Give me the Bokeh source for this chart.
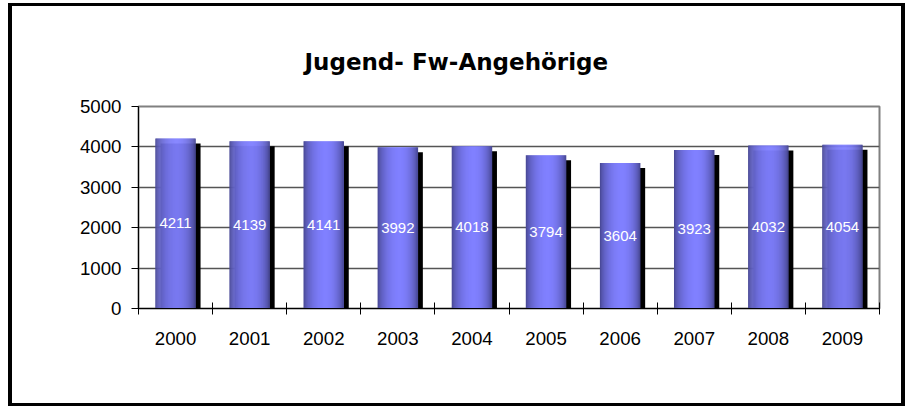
import numpy as np
from bokeh.plotting import figure
from bokeh.models import FixedTicker, ColumnDataSource
from bokeh.core.properties import value
from bokeh.embed import file_html
from bokeh.resources import INLINE

title_text = "Jugend- Fw-Angehörige"
years = ["2000", "2001", "2002", "2003", "2004", "2005", "2006", "2007", "2008", "2009"]
counts = [4211, 4139, 4141, 3992, 4018, 3794, 3604, 3923, 4032, 4054]
y_ticks = [0, 1000, 2000, 3000, 4000, 5000]

n_cat = len(years)
centers = np.arange(n_cat) + 0.5
bar_w = 0.54
n_strips = 40
shadow_dx = 0.0675
shadow_dy = 124

p = figure(width=897, height=403, x_range=(0, n_cat), y_range=(0, 5000),
           output_backend="svg", toolbar_location=None,
           min_border_left=126, min_border_right=30, min_border_top=100, min_border_bottom=101)
p.styles = {"margin-left": "8px", "margin-top": "3px",
            "border-style": "solid", "border-color": "black",
            "border-width": "3px 4px 3px 4px"}
p.background_fill_color = "white"
p.border_fill_color = "white"
p.outline_line_color = "#808080"
p.outline_line_width = 2

p.title.text = title_text
p.title.align = "left"
p.title.offset = 166
p.title.standoff = 64
p.title.text_font = "DejaVu Sans"
p.title.text_font_style = "bold"
p.title.text_font_size = "23px"
p.title.text_color = "black"

# grid
p.xgrid.visible = False
p.ygrid.ticker = FixedTicker(ticks=y_ticks[1:-1])
p.ygrid.grid_line_color = "#555555"
p.ygrid.grid_line_width = 1.5

# shadows
p.vbar(x=centers + shadow_dx, width=bar_w, top=np.array(counts) - shadow_dy, bottom=0,
       fill_color="black", line_color=None)

# gradient bars via strips
dark = np.array([66, 66, 136])
light = np.array([128, 128, 255])
peak = 0.55
def strip_color(t):
    if t < peak:
        b = np.cos((peak - t) / peak * np.pi / 2)
    else:
        b = np.cos((t - peak) / (1 - peak) * np.pi / 2)
    b = max(b, 0) ** 0.6
    c = dark + (light - dark) * b
    return "#%02x%02x%02x" % tuple(int(round(v)) for v in c)

sx, st, sc = [], [], []
sw = bar_w / n_strips
for i, v in enumerate(counts):
    for k in range(n_strips):
        t = (k + 0.5) / n_strips
        sx.append(centers[i] - bar_w / 2 + (k + 0.5) * sw)
        st.append(v)
        sc.append(strip_color(t))
src = ColumnDataSource(dict(x=sx, top=st, color=sc))
p.vbar(x="x", width=sw * 1.5, top="top", bottom=0, fill_color="color", line_color=None, source=src)

# value labels
p.text(x=centers, y=np.array(counts) / 2, text=[str(v) for v in counts],
       text_color="white", text_align="center", text_baseline="middle",
       text_font=value("Liberation Sans"), text_font_size="15px")

# axes
xa = p.xaxis[0]
xa.ticker = FixedTicker(ticks=list(centers), minor_ticks=list(range(n_cat + 1)))
xa.major_label_overrides = {float(c): y for c, y in zip(centers, years)}
xa.major_tick_in = 0
xa.major_tick_out = 0
xa.minor_tick_in = 6
xa.minor_tick_out = 6
xa.minor_tick_line_color = "black"
xa.axis_line_color = "black"
xa.major_label_standoff = 17
xa.major_label_text_font = "Liberation Sans"
xa.major_label_text_font_size = "18.7px"
xa.major_label_text_color = "black"

ya = p.yaxis[0]
ya.ticker = FixedTicker(ticks=y_ticks)
ya.major_tick_in = 0
ya.major_tick_out = 7
ya.minor_tick_line_color = None
ya.axis_line_color = "black"
ya.major_tick_line_color = "black"
ya.major_label_standoff = 10
ya.major_label_text_font = "Liberation Sans"
ya.major_label_text_font_size = "18.7px"
ya.major_label_text_color = "black"

open("out.html", "w").write(file_html(p, INLINE))
